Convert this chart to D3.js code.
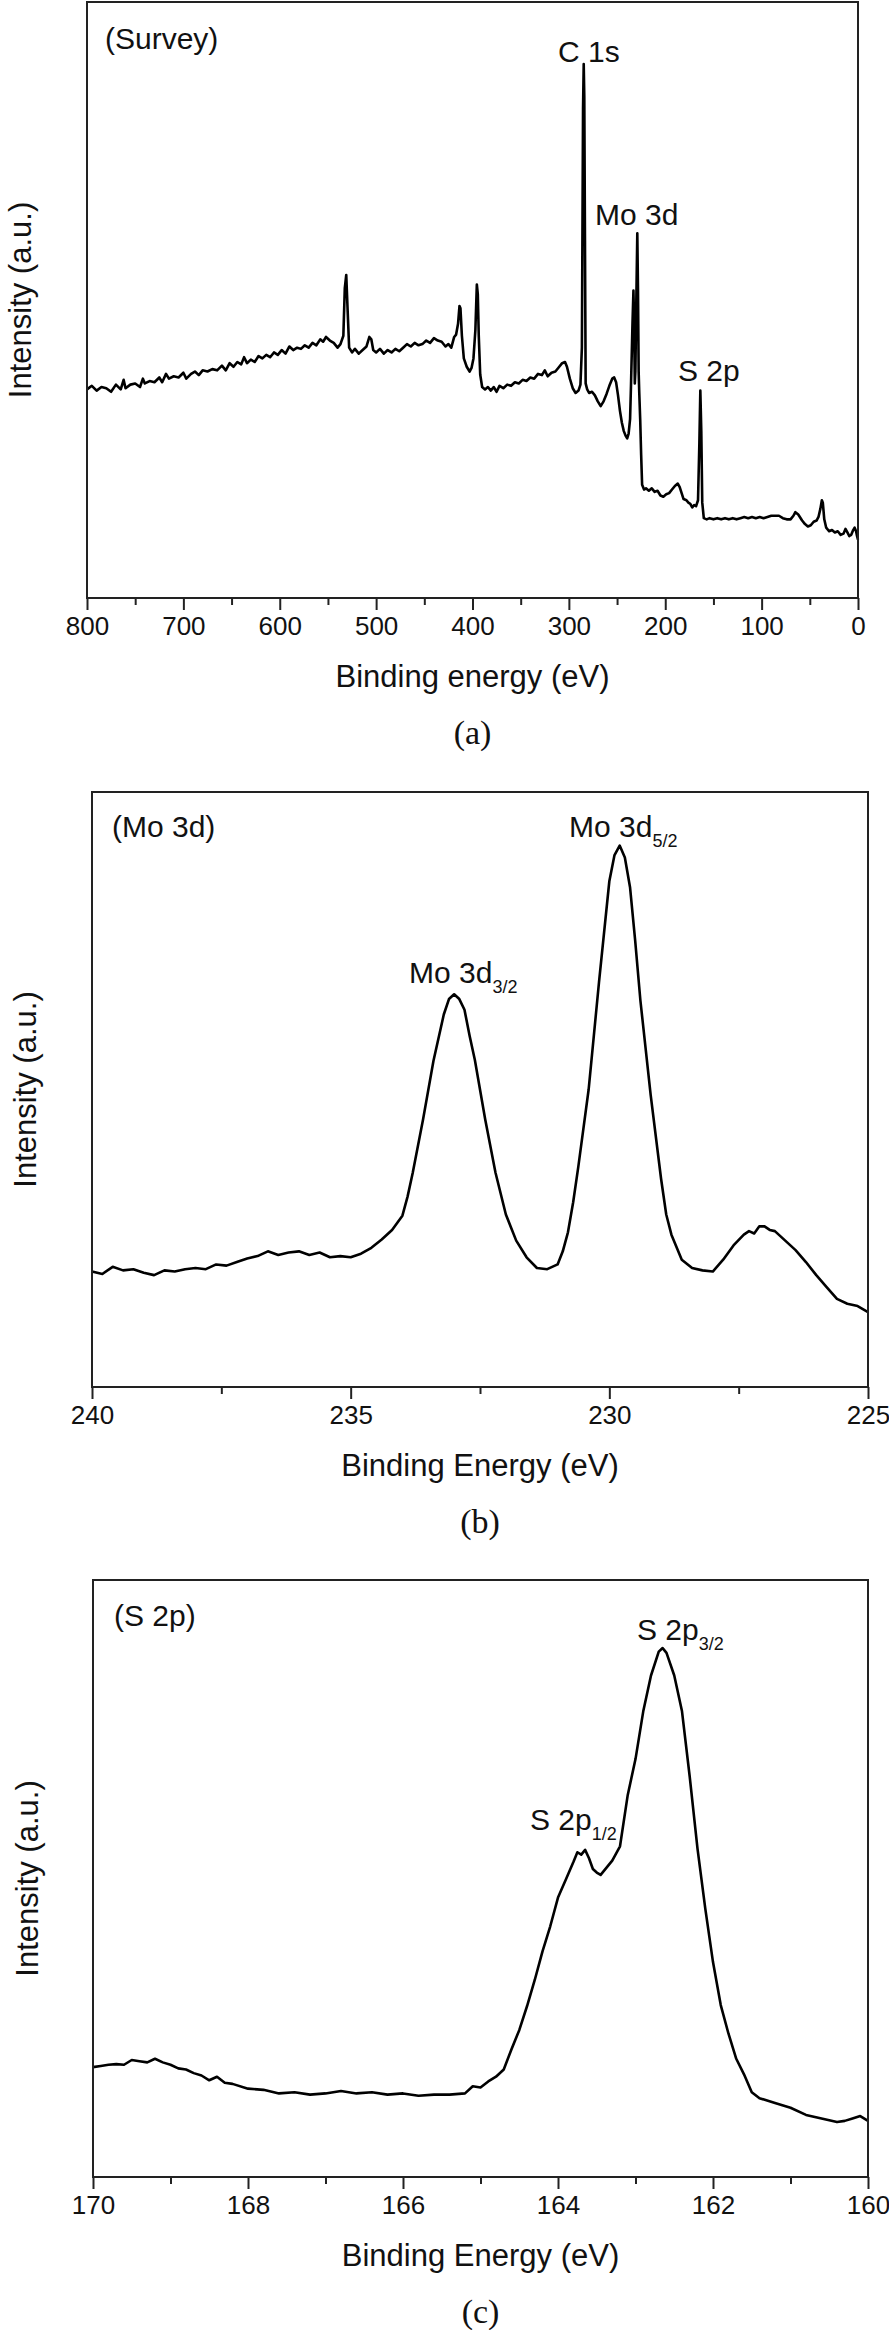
<!DOCTYPE html>
<html>
<head>
<meta charset="utf-8">
<script src="https://cdn.jsdelivr.net/npm/d3@7"></script>
<style>
  body { margin: 0; background: #fff; }
  text { font-family: "Liberation Sans", Arial, sans-serif; fill: #111; }
</style>
</head>
<body>
<script>
// ---- data (intensity in arbitrary units, 0..100 of the frame) ----
var survey_energy = [800, 795, 790, 785, 780, 775, 770, 765, 762, 760, 755, 750, 745, 742, 740, 735, 730, 725, 722, 718,
    715, 710, 705, 700, 697, 692, 688, 684, 680, 675, 670, 665, 660, 656, 652, 648, 644, 640, 637, 634, 630, 626, 622, 618,
    614, 610, 606, 602, 598, 594, 590, 586, 582, 578, 574, 570, 566, 562, 558, 555, 552, 548, 544, 540, 537, 534, 532.5,
    531, 529.5, 528, 525, 522, 518, 514, 510, 507, 505, 503, 500, 496, 492, 488, 484, 480, 476, 472, 468, 464, 460, 456,
    452, 448, 444, 440, 436, 432, 428, 425, 422, 419, 417, 415, 413.5, 412.5, 411, 409, 406, 403, 401, 399, 397, 395.5,
    394.5, 393.5, 392, 390, 387, 384, 381, 378, 375, 372, 368, 364, 360, 356, 352, 348, 344, 340, 336, 332, 328, 325, 322,
    318, 314, 310, 307, 304, 302, 299, 296, 293, 290, 288, 286.5, 285.3, 284.6, 284, 283.3, 282.6, 281, 279, 276, 273, 270,
    267, 264, 261, 258, 255, 253, 251, 249, 247, 245, 243, 241, 239.5, 238, 236.5, 235.5, 234, 233, 232.3, 231.6, 231, 230,
    229, 228.3, 227.6, 227, 226, 225, 224, 222, 220, 217, 214, 211, 208, 205, 202, 199, 196, 193, 190, 187, 185, 183, 181,
    178, 176, 174, 172, 170, 168, 166, 164.6, 163.6, 162.6, 161.6, 160, 157, 154, 150, 146, 142, 138, 134, 130, 126, 122,
    118, 114, 110, 106, 102, 98, 94, 90, 86, 82, 78, 74, 70, 67, 65, 62, 58, 55, 52, 49, 46, 43, 41, 39, 37.5, 36.5, 35,
    33, 30, 27, 24, 21, 18, 15, 13, 11, 9, 7, 5, 3.5, 2, 1, 0]
var survey_intensity = [35.0, 35.6, 34.8, 35.4, 35.2, 34.6, 35.8, 35.0, 36.6, 35.2, 35.8, 36.0, 35.4, 36.8, 36.0, 36.4,
    36.2, 37.0, 36.2, 37.6, 36.8, 37.2, 37.0, 37.8, 36.8, 37.6, 38.0, 37.4, 38.2, 38.0, 38.4, 38.2, 39.0, 38.2, 39.4, 38.8,
    39.6, 39.2, 40.4, 39.4, 40.0, 39.6, 40.6, 40.2, 40.8, 40.4, 41.2, 40.8, 41.6, 41.0, 42.2, 41.6, 42.0, 41.8, 42.4, 42.0,
    42.8, 42.4, 43.4, 43.0, 43.8, 43.2, 42.8, 42.0, 42.6, 44.0, 52.0, 54.2, 48.0, 42.0, 41.2, 41.8, 41.0, 41.6, 42.2, 43.8,
    43.4, 41.6, 41.2, 41.8, 41.0, 41.6, 41.2, 41.8, 41.4, 42.0, 42.6, 42.2, 42.8, 42.4, 42.6, 43.2, 42.8, 43.6, 43.2, 43.0,
    42.2, 42.6, 42.0, 43.8, 44.2, 46.0, 49.0, 48.6, 44.0, 40.2, 38.8, 38.0, 38.6, 40.2, 45.0, 52.6, 51.0, 44.0, 37.5, 35.4,
    35.0, 35.4, 34.8, 35.4, 34.6, 35.6, 35.2, 35.8, 35.6, 36.2, 36.0, 36.6, 36.4, 37.0, 36.8, 37.6, 37.4, 38.2, 37.2, 37.8,
    38.0, 38.8, 39.4, 39.6, 38.8, 36.8, 35.2, 34.4, 34.8, 35.8, 42.0, 82.0, 89.6, 84.0, 60.0, 36.0, 35.0, 34.4, 34.6, 34.0,
    33.0, 32.2, 33.0, 34.2, 35.6, 36.8, 37.0, 36.2, 34.0, 31.4, 29.4, 28.0, 27.2, 26.8, 27.6, 30.0, 36.0, 46.0, 51.6, 46.0,
    36.0, 38.0, 50.0, 61.2, 52.0, 38.0, 34.6, 30.0, 24.0, 19.0, 18.2, 18.4, 18.0, 18.4, 17.8, 18.0, 17.2, 17.0, 17.4, 17.6,
    18.2, 18.8, 19.2, 18.6, 17.6, 16.6, 16.4, 16.0, 15.8, 15.2, 15.6, 15.4, 16.4, 26.0, 34.8, 28.0, 16.0, 13.4, 13.2, 13.4,
    13.2, 13.4, 13.2, 13.4, 13.2, 13.4, 13.2, 13.4, 13.6, 13.4, 13.6, 13.4, 13.6, 13.4, 13.6, 13.8, 13.8, 13.8, 13.4, 13.2,
    13.2, 13.8, 14.4, 14.0, 13.0, 12.4, 12.0, 12.2, 12.8, 13.0, 13.6, 15.0, 16.4, 16.0, 13.2, 11.8, 11.2, 11.4, 11.0, 11.2,
    10.6, 10.8, 11.6, 11.0, 10.4, 10.6, 11.4, 11.8, 11.2, 10.4, 9.8]

var mo_energy = [240.0, 239.8, 239.6, 239.4, 239.2, 239.0, 238.8, 238.6, 238.4, 238.2, 238.0, 237.8, 237.6, 237.4, 237.2,
    237.0, 236.8, 236.6, 236.4, 236.2, 236.0, 235.8, 235.6, 235.4, 235.2, 235.0, 234.8, 234.6, 234.4, 234.2, 234.0, 233.9,
    233.8, 233.6, 233.4, 233.2, 233.1, 233.0, 232.9, 232.8, 232.7, 232.6, 232.4, 232.2, 232.0, 231.8, 231.6, 231.4, 231.2,
    231.0, 230.9, 230.8, 230.7, 230.6, 230.4, 230.2, 230.0, 229.9, 229.8, 229.7, 229.6, 229.5, 229.4, 229.2, 229.0, 228.9,
    228.8, 228.6, 228.4, 228.2, 228.0, 227.8, 227.6, 227.4, 227.3, 227.2, 227.1, 227.0, 226.9, 226.8, 226.6, 226.4, 226.2,
    226.0, 225.8, 225.6, 225.4, 225.2, 225.0]
var mo_intensity = [19.4, 19.0, 20.2, 19.6, 19.8, 19.2, 18.8, 19.6, 19.4, 19.8, 20.0, 19.8, 20.6, 20.4, 21.0, 21.6, 22.0,
    22.8, 22.2, 22.6, 22.8, 22.2, 22.6, 21.8, 22.0, 21.8, 22.4, 23.4, 24.8, 26.4, 28.8, 32.0, 36.0, 45.0, 54.8, 62.6, 65.2,
    66.0, 65.2, 63.4, 59.0, 55.0, 45.0, 36.0, 29.0, 24.6, 21.8, 20.0, 19.8, 20.6, 22.8, 26.0, 31.0, 37.0, 50.0, 68.0, 85.0,
    89.4, 91.0, 89.0, 84.0, 75.0, 65.0, 49.0, 35.0, 29.0, 25.6, 21.4, 20.0, 19.6, 19.4, 21.4, 23.8, 25.6, 26.2, 25.8, 27.0,
    27.0, 26.4, 26.2, 24.6, 23.0, 21.0, 18.8, 16.8, 14.8, 14.0, 13.6, 12.6]

var s_energy = [170.0, 169.9, 169.8, 169.7, 169.6, 169.5, 169.4, 169.3, 169.2, 169.1, 169.0, 168.9, 168.8, 168.7, 168.6,
    168.5, 168.4, 168.3, 168.2, 168.0, 167.8, 167.6, 167.4, 167.2, 167.0, 166.8, 166.6, 166.4, 166.2, 166.0, 165.8, 165.6,
    165.4, 165.2, 165.1, 165.0, 164.9, 164.8, 164.7, 164.6, 164.5, 164.4, 164.3, 164.2, 164.1, 164.0, 163.9, 163.8, 163.75,
    163.7, 163.65, 163.6, 163.55, 163.5, 163.45, 163.4, 163.3, 163.2, 163.1, 163.0, 162.9, 162.8, 162.7, 162.65, 162.6,
    162.5, 162.4, 162.3, 162.2, 162.1, 162.0, 161.9, 161.8, 161.7, 161.6, 161.5, 161.4, 161.2, 161.0, 160.8, 160.6, 160.4,
    160.3, 160.2, 160.1, 160.0]
var s_intensity = [18.4, 18.6, 18.8, 18.9, 18.8, 19.6, 19.4, 19.2, 19.8, 19.2, 18.8, 18.2, 18.0, 17.4, 17.0, 16.2, 16.8,
    15.8, 15.6, 14.8, 14.6, 14.0, 14.2, 13.8, 14.0, 14.4, 14.0, 14.2, 13.8, 14.0, 13.6, 13.8, 13.8, 14.0, 15.2, 15.0, 16.0,
    16.8, 18.0, 21.4, 24.6, 28.6, 33.0, 37.8, 42.0, 46.8, 49.8, 52.8, 54.4, 54.0, 54.8, 53.4, 51.6, 51.0, 50.6, 51.4, 53.0,
    55.4, 64.0, 70.0, 78.0, 84.0, 88.0, 88.6, 87.8, 84.0, 78.0, 67.0, 55.0, 45.0, 36.0, 28.8, 24.0, 19.8, 17.2, 14.2, 13.2,
    12.4, 11.6, 10.4, 9.8, 9.2, 9.4, 9.8, 10.2, 9.4]

var survey_ticks = [800, 700, 600, 500, 400, 300, 200, 100, 0]
var survey_minor = [750, 650, 550, 450, 350, 250, 150, 50]
var mo_ticks = [240, 235, 230, 225]
var mo_minor = [237.5, 232.5, 227.5]
var s_ticks = [170, 168, 166, 164, 162, 160]
var s_minor = [169, 167, 165, 163, 161]

const width = 889
const height = 2330

var svg = d3.select("body").append("svg").attr("width", width).attr("height", height)

// one panel = frame + bottom axis + curve + labels
function panel(cfg) {
    var x = d3.scaleLinear().domain(cfg.domain).range([cfg.left, cfg.right])
    var y = d3.scaleLinear().domain([0, 100]).range([cfg.bottom, cfg.top])
    var g = svg.append("g")

    var pts = cfg.energy.map((e, i) => [e, cfg.intensity[i]])
    g.append("path")
        .datum(pts)
        .attr("fill", "none")
        .attr("stroke", "#000")
        .attr("stroke-width", 2.6)
        .attr("stroke-linejoin", "round")
        .attr("d", d3.line().x(d => x(d[0])).y(d => y(d[1])))

    g.append("rect")
        .attr("x", cfg.left).attr("y", cfg.top)
        .attr("width", cfg.right - cfg.left).attr("height", cfg.bottom - cfg.top)
        .attr("fill", "none").attr("stroke", "#222").attr("stroke-width", 2)

    var ax = g.append("g").attr("transform", "translate(0," + cfg.bottom + ")")
        .call(d3.axisBottom(x).tickValues(cfg.ticks).tickSize(12).tickPadding(7).tickFormat(d3.format("d")))
    ax.select(".domain").remove()
    ax.selectAll("line").attr("stroke", "#222").attr("stroke-width", 2)
    ax.selectAll("text").attr("font-size", 26).attr("font-family", "Liberation Sans, Arial, sans-serif").attr("fill", "#111")

    var mn = g.append("g").attr("transform", "translate(0," + cfg.bottom + ")")
        .call(d3.axisBottom(x).tickValues(cfg.minor).tickSize(7).tickFormat(""))
    mn.select(".domain").remove()
    mn.selectAll("line").attr("stroke", "#222").attr("stroke-width", 2)

    g.append("text")
        .attr("x", (cfg.left + cfg.right) / 2).attr("y", cfg.bottom + 89)
        .attr("text-anchor", "middle").attr("font-size", 31)
        .text(cfg.xTitle)

    g.append("text")
        .attr("transform", "translate(" + cfg.yLabelX + "," + (cfg.top + cfg.bottom) / 2 + ") rotate(-90)")
        .attr("text-anchor", "middle").attr("dy", "0.35em").attr("font-size", 31)
        .text("Intensity (a.u.)")

    g.append("text")
        .attr("x", (cfg.left + cfg.right) / 2).attr("y", cfg.bottom + 146)
        .attr("text-anchor", "middle").attr("font-size", 34)
        .style("font-family", "Liberation Serif, Times New Roman, serif")
        .text(cfg.letter)

    cfg.labels.forEach(function (l) {
        var t = g.append("text")
            .attr("x", cfg.left + l.dx).attr("y", cfg.top + l.dy)
            .attr("font-size", 30)
        t.append("tspan").text(l.text)
        if (l.sub) {
            t.append("tspan").attr("font-size", 18).attr("dy", 10).text(l.sub)
        }
    })
}

panel({
    domain: [800, 0], left: 87, right: 858, top: 2, bottom: 598,
    energy: survey_energy, intensity: survey_intensity,
    ticks: survey_ticks, minor: survey_minor,
    xTitle: "Binding energy (eV)", letter: "(a)", yLabelX: 20,
    labels: [
        {text: "(Survey)", dx: 18, dy: 47},
        {text: "C 1s", dx: 471, dy: 60},
        {text: "Mo 3d", dx: 508, dy: 223},
        {text: "S 2p", dx: 591, dy: 379}
    ]
})

panel({
    domain: [240, 225], left: 92, right: 868, top: 792, bottom: 1387,
    energy: mo_energy, intensity: mo_intensity,
    ticks: mo_ticks, minor: mo_minor,
    xTitle: "Binding Energy (eV)", letter: "(b)", yLabelX: 25,
    labels: [
        {text: "(Mo 3d)", dx: 20, dy: 45},
        {text: "Mo 3d", sub: "5/2", dx: 477, dy: 45},
        {text: "Mo 3d", sub: "3/2", dx: 317, dy: 191}
    ]
})

panel({
    domain: [170, 160], left: 93, right: 868, top: 1580, bottom: 2177,
    energy: s_energy, intensity: s_intensity,
    ticks: s_ticks, minor: s_minor,
    xTitle: "Binding Energy (eV)", letter: "(c)", yLabelX: 27,
    labels: [
        {text: "(S 2p)", dx: 21, dy: 46},
        {text: "S 2p", sub: "3/2", dx: 544, dy: 60},
        {text: "S 2p", sub: "1/2", dx: 437, dy: 250}
    ]
})
</script>
</body>
</html>
